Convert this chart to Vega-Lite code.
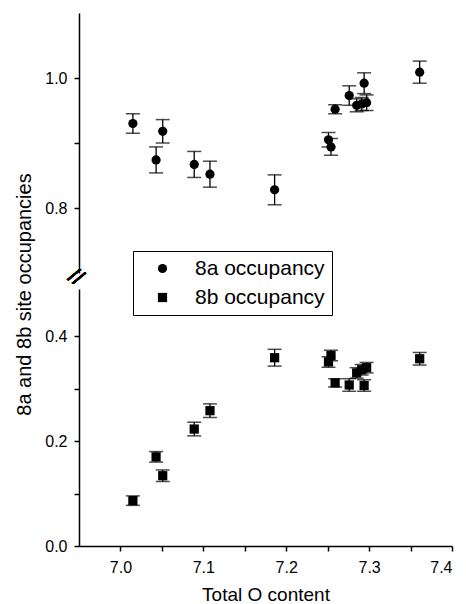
{
  "$schema": "https://vega.github.io/schema/vega-lite/v6.json",
  "padding": {"left": 14, "top": 13, "right": 5, "bottom": 2},
  "bounds": "flush",
  "spacing": 16,
  "config": {
    "font": "Liberation Sans",
    "view": {"stroke": null},
    "axis": {
      "grid": false,
      "domainColor": "black",
      "domainWidth": 1.5,
      "tickColor": "black",
      "tickWidth": 1.5,
      "tickSize": 5,
      "labelColor": "black",
      "labelFontSize": 16,
      "titleColor": "black",
      "titleFontSize": 20,
      "titleFontWeight": "normal"
    },
    "legend": {
      "labelFontSize": 21,
      "labelColor": "black"
    }
  },
  "datasets": {
    "occ": [
      {"O": 7.015, "site": "8a occupancy", "occ": 0.930, "err": 0.015},
      {"O": 7.043, "site": "8a occupancy", "occ": 0.874, "err": 0.020},
      {"O": 7.051, "site": "8a occupancy", "occ": 0.918, "err": 0.018},
      {"O": 7.089, "site": "8a occupancy", "occ": 0.867, "err": 0.020},
      {"O": 7.108, "site": "8a occupancy", "occ": 0.852, "err": 0.020},
      {"O": 7.186, "site": "8a occupancy", "occ": 0.828, "err": 0.023},
      {"O": 7.251, "site": "8a occupancy", "occ": 0.905, "err": 0.011},
      {"O": 7.254, "site": "8a occupancy", "occ": 0.894, "err": 0.013},
      {"O": 7.259, "site": "8a occupancy", "occ": 0.952, "err": 0.007},
      {"O": 7.276, "site": "8a occupancy", "occ": 0.973, "err": 0.015},
      {"O": 7.285, "site": "8a occupancy", "occ": 0.958, "err": 0.010},
      {"O": 7.291, "site": "8a occupancy", "occ": 0.960, "err": 0.010},
      {"O": 7.294, "site": "8a occupancy", "occ": 0.992, "err": 0.016},
      {"O": 7.297, "site": "8a occupancy", "occ": 0.962, "err": 0.012},
      {"O": 7.361, "site": "8a occupancy", "occ": 1.009, "err": 0.017},
      {"O": 7.015, "site": "8b occupancy", "occ": 0.0865, "err": 0.009},
      {"O": 7.043, "site": "8b occupancy", "occ": 0.170, "err": 0.010},
      {"O": 7.051, "site": "8b occupancy", "occ": 0.134, "err": 0.011},
      {"O": 7.089, "site": "8b occupancy", "occ": 0.223, "err": 0.013},
      {"O": 7.108, "site": "8b occupancy", "occ": 0.258, "err": 0.013},
      {"O": 7.186, "site": "8b occupancy", "occ": 0.359, "err": 0.016},
      {"O": 7.251, "site": "8b occupancy", "occ": 0.351, "err": 0.010},
      {"O": 7.254, "site": "8b occupancy", "occ": 0.363, "err": 0.010},
      {"O": 7.259, "site": "8b occupancy", "occ": 0.311, "err": 0.008},
      {"O": 7.276, "site": "8b occupancy", "occ": 0.307, "err": 0.012},
      {"O": 7.285, "site": "8b occupancy", "occ": 0.330, "err": 0.010},
      {"O": 7.291, "site": "8b occupancy", "occ": 0.336, "err": 0.010},
      {"O": 7.294, "site": "8b occupancy", "occ": 0.306, "err": 0.011},
      {"O": 7.297, "site": "8b occupancy", "occ": 0.340, "err": 0.010},
      {"O": 7.361, "site": "8b occupancy", "occ": 0.357, "err": 0.012}
    ]
  },
  "vconcat": [
    {
      "width": 373,
      "height": 260,
      "data": {"name": "occ"},
      "transform": [{"filter": "datum.site == '8a occupancy'"}],
      "layer": [
        {
          "mark": {"type": "errorbar", "color": "black", "thickness": 1.3, "ticks": {"size": 14, "color": "black", "thickness": 1.5}},
          "encoding": {
            "x": {"field": "O", "type": "quantitative", "scale": {"domain": [6.95, 7.4], "nice": false, "zero": false}, "axis": null},
            "y": {"field": "occ", "type": "quantitative", "scale": {"domain": [0.7, 1.1], "nice": false, "zero": false},
              "axis": {"values": [0.8, 0.9, 1.0], "labelExpr": "round(datum.value*10) % 2 == 0 ? format(datum.value, '.1f') : ''", "labelPadding": 7,
                "title": "8a and 8b site occupancies", "titleX": -55, "titleY": 281, "titleAngle": -90, "titleAlign": "center", "titleBaseline": "middle"}},
            "yError": {"field": "err"}
          }
        },
        {
          "mark": {"type": "point", "filled": true, "size": 85, "opacity": 1, "color": "black"},
          "encoding": {
            "x": {"field": "O", "type": "quantitative"},
            "y": {"field": "occ", "type": "quantitative"},
            "shape": {"field": "site", "type": "nominal",
              "scale": {"domain": ["8a occupancy", "8b occupancy"], "range": ["circle", "square"]},
              "legend": {"orient": "none", "legendX": 54, "legendY": 238, "title": null, "strokeColor": "black", "fillColor": "white", "padding": 7, "symbolOffset": 12, "symbolSize": 85, "symbolFillColor": "black", "symbolStrokeColor": "black", "labelOffset": 22, "rowPadding": 7}}
          }
        },
        {
          "mark": {"type": "text", "text": "//", "fontSize": 22, "angle": 35, "clip": false, "color": "black", "dy": 5},
          "encoding": {
            "x": {"datum": 6.95, "type": "quantitative"},
            "y": {"datum": 0.7, "type": "quantitative"}
          }
        }
      ]
    },
    {
      "width": 373,
      "height": 257,
      "data": {"name": "occ"},
      "transform": [{"filter": "datum.site == '8b occupancy'"}],
      "layer": [
        {
          "mark": {"type": "errorbar", "color": "black", "thickness": 1.3, "ticks": {"size": 14, "color": "black", "thickness": 1.5}},
          "encoding": {
            "x": {"field": "O", "type": "quantitative", "scale": {"domain": [6.95, 7.4], "nice": false, "zero": false},
              "axis": {"values": [7.0, 7.05, 7.1, 7.15, 7.2, 7.25, 7.3, 7.35, 7.4], "labelExpr": "round(datum.value*100) % 10 == 0 ? format(datum.value, '.1f') : ''", "labelPadding": 8, "title": "Total O content", "titleFontSize": 19, "titlePadding": 10}},
            "y": {"field": "occ", "type": "quantitative", "scale": {"domain": [0, 0.49], "nice": false, "zero": false},
              "axis": {"values": [0, 0.1, 0.2, 0.3, 0.4], "labelExpr": "round(datum.value*10) % 2 == 0 ? format(datum.value, '.1f') : ''", "labelPadding": 7, "title": null}},
            "yError": {"field": "err"}
          }
        },
        {
          "mark": {"type": "point", "filled": true, "size": 85, "opacity": 1, "color": "black"},
          "encoding": {
            "x": {"field": "O", "type": "quantitative"},
            "y": {"field": "occ", "type": "quantitative"},
            "shape": {"field": "site", "type": "nominal",
              "scale": {"domain": ["8a occupancy", "8b occupancy"], "range": ["circle", "square"]}}
          }
        }
      ]
    }
  ]
}
